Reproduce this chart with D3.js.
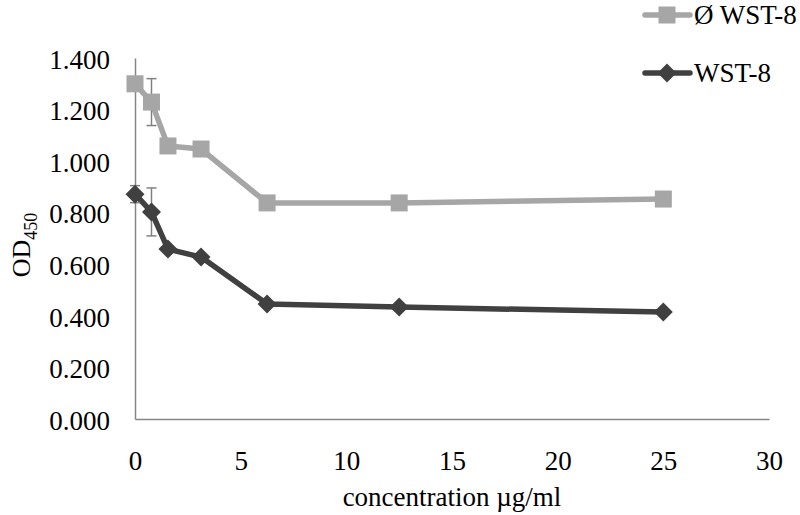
<!DOCTYPE html>
<html><head><meta charset="utf-8">
<script src="https://cdn.jsdelivr.net/npm/d3@7"></script>
<style>body{margin:0;background:#fff}svg{display:block}text{font-family:"Liberation Serif","Times New Roman",serif;fill:#000}</style>
</head><body><svg id="c" width="800" height="515"></svg>
<script>
const concentrations = [0, 0.78, 1.56, 3.125, 6.25, 12.5, 25];
const noWst8 = [1.300, 1.229, 1.059, 1.047, 0.838, 0.838, 0.853];
const noWst8Err = [0.02, 0.091, 0, 0, 0, 0, 0];
const wst8 = [0.872, 0.803, 0.659, 0.628, 0.446, 0.434, 0.415];
const wst8Err = [0.033, 0.093, 0, 0, 0, 0, 0];
const xTicks = [0, 5, 10, 15, 20, 25, 30];
const yTicks = [0, 0.2, 0.4, 0.6, 0.8, 1.0, 1.2, 1.4];
const seriesNames = ["Ø WST-8", "WST-8"];

const svg = d3.select("#c");
const x = d3.scaleLinear().domain([0, 30]).range([135, 769]);
const y = d3.scaleLinear().domain([0, 1.4]).range([419, 58]);
const axisColor = "#868686";

const xa = svg.append("g").attr("transform", `translate(0,${y(0)})`)
  .call(d3.axisBottom(x).tickValues(xTicks).tickSize(0).tickPadding(32).tickFormat(d3.format("d")));
const ya = svg.append("g").attr("transform", `translate(${x(0)},0)`)
  .call(d3.axisLeft(y).tickValues(yTicks).tickSize(0).tickPadding(25).tickFormat(d3.format(".3f")));
[xa, ya].forEach(a => {
  a.attr("font-size", null).attr("font-family", null);
  a.select(".domain").attr("stroke", axisColor).attr("stroke-width", 1.5);
  a.selectAll("text").style("font-size", "27px").style("font-family", '"Liberation Serif",serif').attr("fill", "#000");
});
ya.selectAll("text").attr("dy", "0.38em");

svg.append("text").attr("x", 452).attr("y", 506).attr("text-anchor", "middle")
  .style("font-size", "27px").text("concentration µg/ml");
const yl = svg.append("text").attr("transform", "translate(30,245) rotate(-90)").attr("text-anchor", "middle")
  .style("font-size", "26px");
yl.append("tspan").text("OD");
yl.append("tspan").attr("dy", 7).style("font-size", "18px").text("450");

const series = [
  {name: seriesNames[0], vals: noWst8, err: noWst8Err, color: "#a6a6a6", marker: "square"},
  {name: seriesNames[1], vals: wst8, err: wst8Err, color: "#404040", marker: "diamond"}
];
const line = d3.line().x(d => x(d[0])).y(d => y(d[1]));
function marker(g, type, cx, cy, color) {
  if (type === "square") {
    g.append("rect").attr("x", cx - 8.5).attr("y", cy - 8.5).attr("width", 17).attr("height", 17).attr("fill", color);
  } else {
    g.append("path").attr("d", `M${cx},${cy-9.5}L${cx+9.5},${cy}L${cx},${cy+9.5}L${cx-9.5},${cy}Z`).attr("fill", color);
  }
}
series.forEach(s => {
  const pts = concentrations.map((c, i) => [c, s.vals[i]]);
  const g = svg.append("g");
  g.append("path").datum(pts).attr("d", line).attr("fill", "none").attr("stroke", s.color).attr("stroke-width", 5.5).attr("stroke-linejoin", "round");
  pts.forEach((p, i) => {
    const e = s.err[i];
    if (!e) return;
    const cx = x(p[0]), y1 = y(p[1] + e), y2 = y(p[1] - e);
    g.append("line").attr("x1", cx).attr("x2", cx).attr("y1", y1).attr("y2", y2).attr("stroke", "#808080").attr("stroke-width", 1.5);
    [y1, y2].forEach(yy => g.append("line").attr("x1", cx - 5).attr("x2", cx + 5).attr("y1", yy).attr("y2", yy).attr("stroke", "#808080").attr("stroke-width", 1.5));
  });
  pts.forEach(p => marker(g, s.marker, x(p[0]), y(p[1]), s.color));
});

const legY = [15, 73];
series.forEach((s, i) => {
  const g = svg.append("g");
  g.append("line").attr("x1", 645).attr("x2", 690).attr("y1", legY[i]).attr("y2", legY[i]).attr("stroke", s.color).attr("stroke-width", 5.5).attr("stroke-linecap", "round");
  marker(g, s.marker, 667, legY[i], s.color);
  g.append("text").attr("x", 694).attr("y", legY[i] + 9).style("font-size", "27px").text(s.name);
});
</script></body></html>
